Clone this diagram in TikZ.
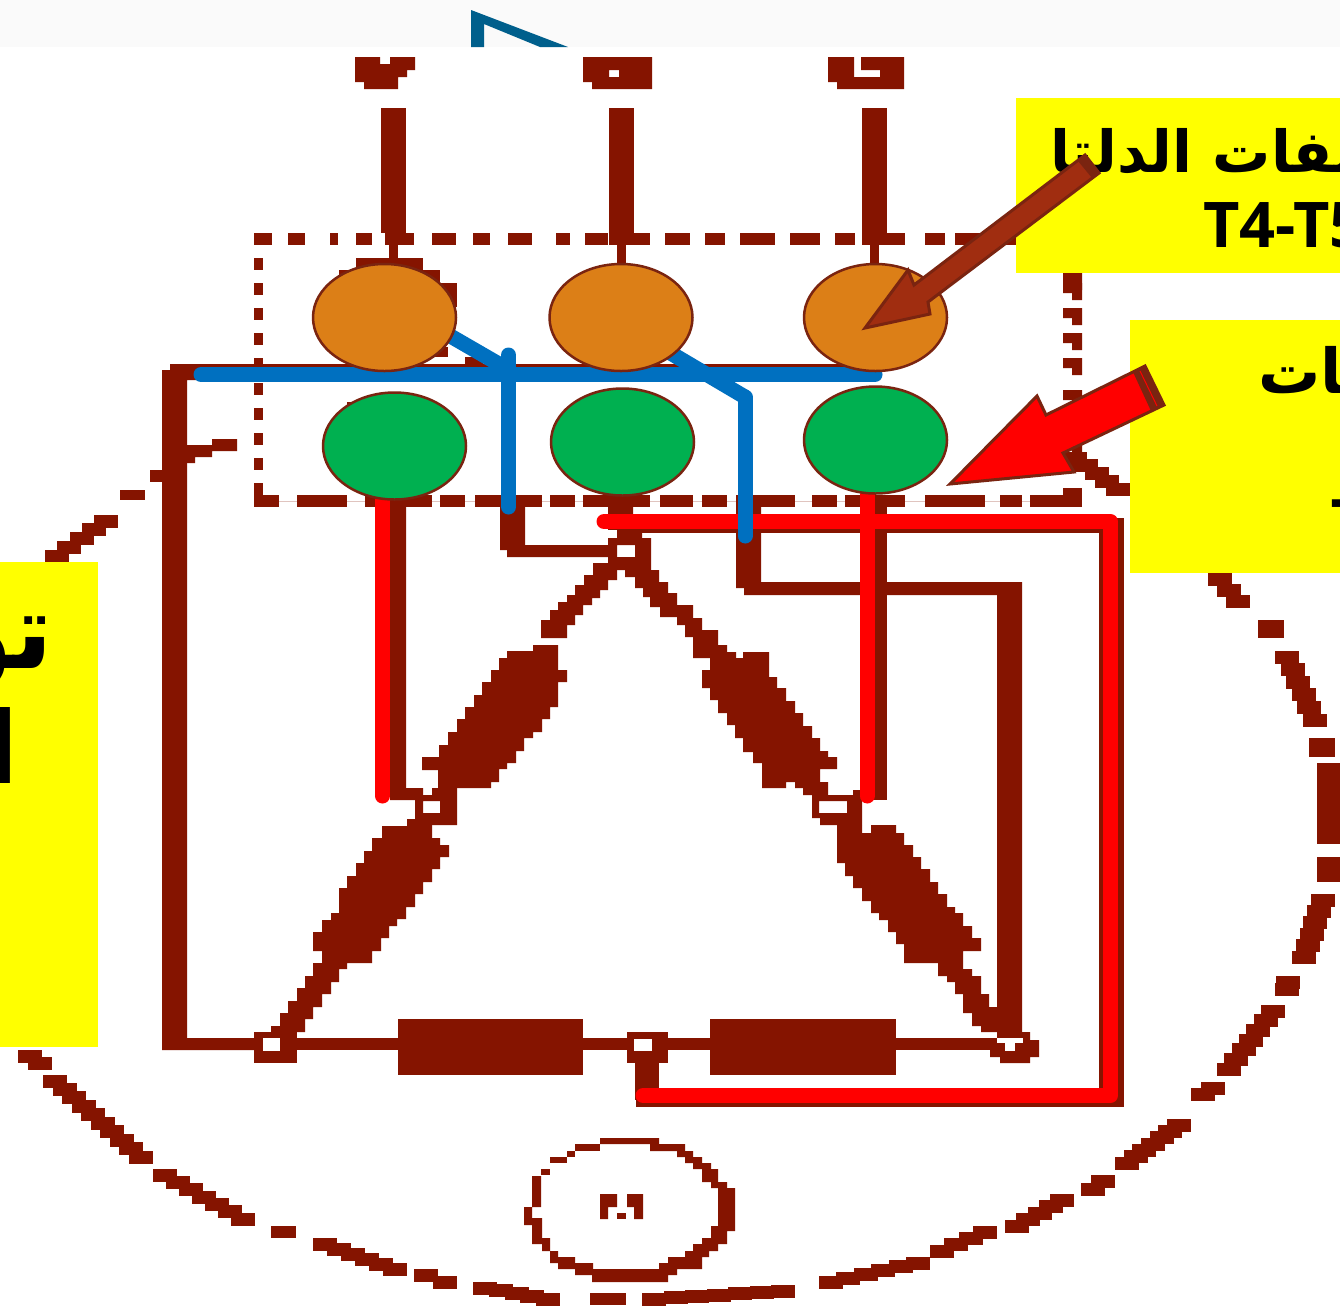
\documentclass[tikz,border=0pt]{standalone}
\usepackage{fontspec}
\usepackage{tikz}
\usetikzlibrary{shapes.geometric}
\setmainfont{Open Sans}
\newfontfamily\arabicfont[Script=Arabic]{DejaVu Sans}
\TeXXeTstate=1
\definecolor{wirered}{HTML}{851400}
\definecolor{edgebrown}{HTML}{7A2410}
\definecolor{arrowbrown}{HTML}{A02D10}
\definecolor{blueline}{HTML}{0070C0}
\definecolor{orangepad}{HTML}{DC7F17}
\definecolor{greenpad}{HTML}{00B050}
\definecolor{tabteal}{HTML}{005F8C}
\definecolor{labelyellow}{RGB}{255,255,0}
\definecolor{purered}{RGB}{255,0,0}
\tikzset{
  wire/.style = {fill = wirered},
  pad/.style = {ellipse, draw = edgebrown, line width = 2.5pt, minimum width = 143pt, minimum height = 107pt, inner sep = 0pt},
  yellowbox/.style = {fill = labelyellow},
  bluelink/.style = {draw = blueline, line width = 15pt, line cap = round},
  redlink/.style = {draw = purered, line width = 15pt, line cap = round, line join = round},
  bigarrow/.style = {draw = edgebrown, line width = 3pt, line join = miter},
  labeltext/.style = {inner sep = 0pt, text = black, font = \bfseries}
}
% one piece of the stepped outer ring
\newcommand{\stairpiece}[5]{%
  \foreach \k in {0,...,#5} {
    \pgfmathsetmacro{\px}{#1+(#3-#1)*\k/#5}
    \pgfmathsetmacro{\py}{#2+(#4-#2)*\k/#5}
    \fill [wire] (\px-12,\py-6.5) rectangle (\px+12,\py+6.5);
  }
}
\begin{document}
\begin{tikzpicture}[x = 1pt, y = -1pt]
\useasboundingbox (0, 0) rectangle (1340, 1310);
\fill [white] (0, 0) rectangle (1340, 1310);
%\draw [help lines, step = 100] (0, 0) grid (1340, 1310);
\fill [black!2] (0, 0) rectangle (1340, 47);
\fill [tabteal] (471, 47) -- (471, 10) -- (568, 47) -- (540, 47) -- (484, 24) -- (484, 47) -- cycle;

% terminals
\fill [wire] (355, 57) -- (380, 57) -- (380, 64) -- (390, 64) -- (390, 57) -- (415, 57) -- (415, 70) -- (407, 70) -- (407, 77) -- (398, 77) -- (398, 89) -- (364, 89) -- (364, 82) -- (355, 82) -- cycle;
\fill [wire, even odd rule] (583, 57) -- (652, 57) -- (652, 89) -- (592, 89) -- (592, 82) -- (583, 82) -- cycle (609, 70) rectangle (619, 77);
\fill [wire] (828, 57) -- (854, 57) -- (854, 77) -- (880, 77) -- (880, 70) -- (861, 70) -- (861, 57) -- (904, 57) -- (904, 89) -- (837, 89) -- (837, 82) -- (828, 82) -- cycle;
\foreach \a in {381, 609, 862} {
  \fill [wire] (\a, 108) rectangle (\a + 25, 233);
  \fill [wire] (\a + 8, 245) rectangle (\a + 17, 266);
}

% dashed box
\draw [wirered!25, line width = 1pt] (254, 501) -- (1082, 501);
\foreach \a/\b in {254/272, 288/305, 330/338, 356/372, 385/414, 432/456, 473/490, 508/532, 556/570, 585/608, 609/650, 665/690, 705/725, 740/775, 790/820, 835/855, 862/905, 925/945, 955/980, 1000/1016} {
  \fill [wire] (\a, 233) rectangle (\b, 245);
}
\foreach \a/\b in {254/279, 297/347, 365/432, 440/465, 475/542, 550/575, 583/650, 660/693, 702/727, 737/795, 812/837, 845/905, 925/985, 1000/1022, 1030/1082} {
  \fill [wire] (\a, 495) rectangle (\b, 507);
}
\foreach \a in {258, 283, 308, 333, 358, 383, 408, 433, 458, 483} {
  \fill [wire] (254, \a) rectangle (263, \a + 12);
}
\fill [wire] (254, 483) rectangle (263, 507);
\fill [wire] (1063, 488) rectangle (1082, 507);
\foreach \a in {273, 283, 308, 333, 358, 390, 415, 440, 452} {
  \fill [wire] (1063, \a) -- (1082, \a) -- (1082, \a + 17) -- (1072, \a + 17) -- (1072, \a + 10) -- (1063, \a + 10) -- cycle;
}

% blobs behind the pads
\fill [wire] (356, 258) rectangle (423, 270);
\fill [wire] (339, 270) rectangle (440, 282);
\fill [wire] (440, 283) rectangle (457, 307);
\fill [wire] (433, 347) rectangle (448, 357);
\fill [wire] (465, 357) rectangle (483, 364);
\fill [wire] (347, 402) rectangle (363, 410);

% big frame and wires
\fill [wire] (170, 364) -- (880, 364) -- (880, 380) -- (187, 380) -- (187, 1038) -- (255, 1038) -- (255, 1050) -- (162, 1050) -- (162, 370) -- (170, 370) -- cycle;
\fill [wire] (187, 445) -- (212, 445) -- (212, 439) -- (237, 439) -- (237, 451) -- (212, 451) -- (212, 457) -- (195, 457) -- (195, 463) -- (187, 463) -- cycle;
\fill [wire] (150, 470) rectangle (162, 482);
\fill [wire] (120, 490) rectangle (145, 500);
\stairpiece{57}{556}{106}{521}{4}
\fill [wire] (390, 495) -- (406, 495) -- (406, 788) -- (423, 788) -- (423, 800) -- (390, 800) -- cycle;
\fill [wire] (874, 495) rectangle (887, 793);
\fill [wire] (853, 790) rectangle (887, 800);
\fill [wire] (500, 495) -- (525, 495) -- (525, 545) -- (610, 545) -- (610, 557) -- (507, 557) -- (507, 550) -- (500, 550) -- cycle;
\fill [wire] (736, 495) -- (761, 495) -- (761, 582) -- (1022, 582) -- (1022, 1035) -- (997, 1035) -- (997, 595) -- (744, 595) -- (744, 588) -- (736, 588) -- cycle;
\fill [wire] (620, 518) rectangle (1124, 533);
\fill [wire] (1099, 518) rectangle (1124, 1107);
\fill [wire] (636, 1088) rectangle (1124, 1107);

% top junction
\fill [wire, even odd rule] (608, 507) -- (633, 507) -- (633, 529) -- (642, 529) -- (642, 538) -- (651, 538) -- (651, 570) -- (608, 570) -- cycle (617, 545) rectangle (635, 557);
\fill [white] (608, 538) -- (617, 538) -- (617, 530) -- (608, 530) -- cycle;
% left branch from the top junction
\fill [wire] (593, 563) -- (617, 563) -- (617, 580) -- (608, 580) -- (608, 590) -- (600, 590) -- (600, 598) -- (592, 598) -- (592, 605) -- (583, 605) -- (583, 615) -- (575, 615) -- (575, 625) -- (567, 625) -- (567, 638) -- (541, 638) -- (541, 620) -- (550, 620) -- (550, 610) -- (558, 610) -- (558, 602) -- (567, 602) -- (567, 595) -- (575, 595) -- (575, 585) -- (584, 585) -- (584, 575) -- (593, 575) -- cycle;
% right branch from the top junction
\fill [wire] (625, 570) -- (659, 570) -- (659, 582) -- (668, 582) -- (668, 593) -- (677, 593) -- (677, 605) -- (693, 605) -- (693, 618) -- (702, 618) -- (702, 630) -- (718, 630) -- (718, 645) -- (727, 645) -- (727, 652) -- (736, 652) -- (736, 658) -- (693, 658) -- (693, 637) -- (685, 637) -- (685, 625) -- (677, 625) -- (677, 617) -- (660, 617) -- (660, 607) -- (650, 607) -- (650, 597) -- (643, 597) -- (643, 588) -- (635, 588) -- (635, 577) -- (625, 577) -- cycle;

% upper left winding
\fill [wire] (533, 645) -- (558, 645) -- (558, 670) -- (567, 670) -- (567, 682) -- (558, 682) -- (558, 707) -- (550, 707) -- (550, 719) -- (542, 719) -- (542, 732) -- (533, 732) -- (533, 738) -- (524, 738) -- (524, 751) -- (516, 751) -- (516, 763) -- (507, 763) -- (507, 769) -- (499, 769) -- (499, 782) -- (491, 782) -- (491, 788) -- (438, 788) -- (438, 770) -- (422, 770) -- (422, 757) -- (439, 757) -- (439, 745) -- (448, 745) -- (448, 732) -- (457, 732) -- (457, 719) -- (465, 719) -- (465, 707) -- (474, 707) -- (474, 695) -- (482, 695) -- (482, 682) -- (491, 682) -- (491, 670) -- (499, 670) -- (499, 658) -- (507, 658) -- (507, 651) -- (533, 651) -- cycle;
% upper right winding
\fill [wire] (710, 658) -- (743, 658) -- (743, 652) -- (769, 652) -- (769, 677) -- (777, 677) -- (777, 688) -- (786, 688) -- (786, 701) -- (795, 701) -- (795, 713) -- (803, 713) -- (803, 726) -- (812, 726) -- (812, 738) -- (820, 738) -- (820, 751) -- (828, 751) -- (828, 757) -- (837, 757) -- (837, 769) -- (820, 769) -- (820, 782) -- (828, 782) -- (828, 795) -- (803, 795) -- (803, 788) -- (795, 788) -- (795, 782) -- (786, 782) -- (786, 788) -- (762, 788) -- (762, 763) -- (753, 763) -- (753, 752) -- (743, 752) -- (743, 738) -- (735, 738) -- (735, 725) -- (727, 725) -- (727, 713) -- (718, 713) -- (718, 700) -- (710, 700) -- (710, 688) -- (702, 688) -- (702, 670) -- (710, 670) -- cycle;
% middle junctions
\fill [wire, even odd rule] (415, 795) -- (432, 795) -- (432, 788) -- (457, 788) -- (457, 825) -- (415, 825) -- cycle (423, 801) rectangle (440, 813);
\fill [wire, even odd rule] (812, 795) -- (862, 795) -- (862, 825) -- (820, 825) -- (820, 818) -- (812, 818) -- cycle (819, 801) rectangle (847, 813);
% lower left winding
\fill [wire] (382, 826) -- (407, 826) -- (407, 819) -- (415, 819) -- (432, 825) -- (432, 838) -- (440, 838) -- (440, 845) -- (449, 845) -- (449, 857) -- (440, 857) -- (440, 869) -- (432, 869) -- (432, 882) -- (423, 882) -- (423, 894) -- (415, 894) -- (415, 907) -- (406, 907) -- (406, 919) -- (397, 919) -- (397, 926) -- (389, 926) -- (389, 938) -- (381, 938) -- (381, 951) -- (372, 951) -- (372, 963) -- (347, 963) -- (347, 969) -- (339, 969) -- (339, 982) -- (331, 982) -- (331, 994) -- (322, 994) -- (322, 1007) -- (313, 1007) -- (313, 1019) -- (305, 1019) -- (305, 1032) -- (271, 1032) -- (271, 1026) -- (280, 1026) -- (280, 1013) -- (288, 1013) -- (288, 1001) -- (297, 1001) -- (297, 988) -- (305, 988) -- (305, 976) -- (313, 976) -- (313, 963) -- (322, 963) -- (322, 951) -- (313, 951) -- (313, 932) -- (322, 932) -- (322, 920) -- (331, 920) -- (331, 913) -- (339, 913) -- (339, 888) -- (347, 888) -- (347, 876) -- (356, 876) -- (356, 863) -- (364, 863) -- (364, 851) -- (372, 851) -- (372, 838) -- (382, 838) -- cycle;
% lower right winding
\fill [wire] (837, 825) -- (862, 825) -- (862, 833) -- (871, 833) -- (871, 825) -- (896, 825) -- (896, 833) -- (904, 833) -- (904, 845) -- (913, 845) -- (913, 857) -- (921, 857) -- (921, 869) -- (930, 869) -- (930, 882) -- (938, 882) -- (938, 894) -- (947, 894) -- (947, 907) -- (955, 907) -- (955, 913) -- (963, 913) -- (963, 926) -- (972, 926) -- (972, 938) -- (981, 938) -- (981, 951) -- (963, 951) -- (963, 969) -- (972, 969) -- (972, 976) -- (981, 976) -- (981, 994) -- (989, 994) -- (989, 1007) -- (997, 1007) -- (997, 1032) -- (981, 1032) -- (981, 1026) -- (972, 1026) -- (972, 1013) -- (963, 1013) -- (963, 994) -- (955, 994) -- (955, 982) -- (947, 982) -- (947, 976) -- (938, 976) -- (938, 963) -- (904, 963) -- (904, 944) -- (896, 944) -- (896, 932) -- (888, 932) -- (888, 920) -- (879, 920) -- (879, 913) -- (871, 913) -- (871, 901) -- (862, 901) -- (862, 888) -- (853, 888) -- (853, 876) -- (845, 876) -- (845, 863) -- (837, 863) -- cycle;

% bottom wire with two windings
\fill [wire] (255, 1038) rectangle (1000, 1050);
\fill [wire] (398, 1019) rectangle (583, 1075);
\fill [wire] (710, 1019) rectangle (896, 1075);
\fill [wire] (254, 1032) rectangle (297, 1063);
\fill [wire] (627, 1032) rectangle (668, 1063);
\fill [white] (263, 1038) rectangle (280, 1051);
\fill [white] (634, 1039) rectangle (652, 1051);
\fill [wire] (635, 1063) rectangle (659, 1100);
\fill [wire] (997, 1032) -- (1030, 1032) -- (1030, 1040) -- (1039, 1040) -- (1039, 1057) -- (1030, 1057) -- (1030, 1063) -- (1000, 1063) -- (1000, 1057) -- (990, 1057) -- (990, 1050) -- (997, 1050) -- cycle;
\fill [white] (997, 1038) rectangle (1023, 1043);
\fill [white] (1005, 1043) rectangle (1015, 1051);

% outer ring
\stairpiece{30}{1056}{40}{1063}{1}
\stairpiece{55}{1081}{141}{1157}{9}
\stairpiece{165}{1175}{243}{1219}{6}
\fill [wire] (271, 1226) rectangle (296, 1238);
\stairpiece{325}{1244}{395}{1269}{5}
\stairpiece{426}{1275}{445}{1282}{1}
\stairpiece{485}{1288}{548}{1299}{4}
\fill [wire] (590, 1293) rectangle (626, 1305);
\stairpiece{654}{1299}{783}{1291}{6}
\stairpiece{831}{1282}{918}{1263}{5}
\stairpiece{942}{1251}{985}{1232}{3}
\stairpiece{1017}{1226}{1062}{1200}{4}
\stairpiece{1093}{1189}{1103}{1181}{1}
\stairpiece{1127}{1163}{1179}{1125}{6}
\stairpiece{1203}{1094}{1213}{1088}{1}
\stairpiece{1229}{1069}{1273}{1011}{6}
\stairpiece{1287}{989}{1288}{982}{1}
\stairpiece{1304}{957}{1323}{900}{5}
\fill [wire] (1317, 857) rectangle (1340, 882);
\fill [wire] (1317, 763) rectangle (1340, 844);
\fill [wire] (1309, 738) rectangle (1335, 757);
\stairpiece{1287}{657}{1315}{720}{5}
\fill [wire] (1258, 620) rectangle (1284, 638);
\stairpiece{1220}{579}{1238}{601}{2}
\stairpiece{1075}{458}{1118}{489}{4}

% motor ring
\fill [wire] (600, 1138) -- (659, 1138) -- (659, 1144) -- (685, 1144) -- (685, 1151) -- (693, 1151) -- (693, 1157) -- (702, 1157) -- (702, 1163) -- (711, 1163) -- (711, 1169) -- (718, 1169) -- (718, 1182) -- (727, 1182) -- (727, 1188) -- (735, 1188) -- (735, 1231) -- (727, 1231) -- (727, 1244) -- (718, 1244) -- (718, 1251) -- (709, 1251) -- (709, 1257) -- (702, 1257) -- (702, 1269) -- (677, 1269) -- (677, 1275) -- (668, 1275) -- (668, 1282) -- (592, 1282) -- (592, 1275) -- (575, 1275) -- (575, 1269) -- (558, 1269) -- (558, 1263) -- (550, 1263) -- (550, 1251) -- (542, 1251) -- (542, 1244) -- (532, 1244) -- (532, 1225) -- (524, 1225) -- (524, 1207) -- (532, 1207) -- (532, 1176) -- (541, 1176)
  -- (541, 1207) -- (532, 1207) -- (532, 1218) -- (542, 1218) -- (542, 1238) -- (550, 1238) -- (550, 1251) -- (558, 1251) -- (558, 1257) -- (575, 1257) -- (575, 1263) -- (593, 1263) -- (593, 1269) -- (659, 1269) -- (659, 1263) -- (668, 1263) -- (668, 1257) -- (685, 1257) -- (685, 1251) -- (693, 1251) -- (693, 1244) -- (702, 1244) -- (702, 1238) -- (711, 1238) -- (711, 1226) -- (718, 1226) -- (718, 1188) -- (711, 1188) -- (711, 1182) -- (702, 1182) -- (702, 1169) -- (693, 1169) -- (693, 1163) -- (685, 1163) -- (685, 1157) -- (677, 1157) -- (677, 1151) -- (650, 1151) -- (650, 1144) -- (600, 1144) -- cycle;
\fill [wire] (575, 1144) rectangle (600, 1151);
\fill [wire] (567, 1151) rectangle (575, 1157);
\fill [wire] (550, 1157) rectangle (567, 1163);
\fill [wire] (541, 1169) rectangle (550, 1175);
\fill [wire] (600, 1194) -- (617, 1194) -- (617, 1207) -- (608, 1207) -- (608, 1219) -- (600, 1219) -- cycle;
\fill [wire] (627, 1194) -- (643, 1194) -- (643, 1219) -- (634, 1219) -- (634, 1207) -- (627, 1207) -- cycle;
\fill [wire] (617, 1213) rectangle (626, 1219);

% red links
\coordinate (reda) at (382.5, 500);
\coordinate (redaend) at (382.5, 796);
\coordinate (redc) at (867, 495);
\coordinate (redcend) at (867, 796);
\coordinate (redstart) at (604, 521.5);
\coordinate (redcorner) at (1110.5, 521.5);
\coordinate (redlow) at (1110.5, 1095.5);
\coordinate (redend) at (643, 1095.5);
\draw [redlink] (reda) -- (redaend);
\draw [redlink] (redc) -- (redcend);
\draw [redlink] (redstart) -- (redcorner) -- (redlow) -- (redend);

% blue links
\coordinate (bluestart) at (201, 374.5);
\coordinate (blueend) at (875, 374.5);
\coordinate (blueatop) at (508.5, 355);
\coordinate (blueabot) at (508.5, 507);
\coordinate (bluebtop) at (745, 397);
\coordinate (bluebbot) at (745, 536);
\coordinate (diaga) at (440, 330);
\coordinate (diagaend) at (504, 367);
\coordinate (diagb) at (662, 348);
\draw [bluelink] (bluestart) -- (blueend);
\draw [bluelink] (blueatop) -- (blueabot);
\draw [bluelink] (bluebtop) -- (bluebbot);
\draw [bluelink, line cap = butt] (diaga) -- (diagaend);
\draw [bluelink, line cap = butt] (diagb) -- (bluebtop);

% pads
\node [pad, fill = orangepad] (orangea) at (384.5, 317.5) {};
\node [pad, fill = orangepad] (orangeb) at (621, 317.5) {};
\node [pad, fill = orangepad] (orangec) at (875.5, 317.5) {};
\node [pad, fill = greenpad] (greena) at (394.5, 446) {};
\node [pad, fill = greenpad] (greenb) at (622.5, 442) {};
\node [pad, fill = greenpad] (greenc) at (875.5, 440) {};

% yellow labels
\fill [yellowbox] (1016, 98) rectangle (1340, 273);
\fill [yellowbox] (1130, 320) rectangle (1340, 573);
\fill [yellowbox] (0, 562) rectangle (98, 1047);
\node [labeltext, anchor = base west, font = \bfseries\fontsize{58}{58}\selectfont] (deltaname) at (1050, 172) {\arabicfont\beginR ملفات الدلتا\endR};
\node [labeltext, anchor = base west, font = \bfseries\fontsize{63}{63}\selectfont] (deltaends) at (1203, 247) {T4-T5-T6};
\node [labeltext, anchor = base west, font = \bfseries\fontsize{62}{62}\selectfont] (rightname) at (1258, 393) {\arabicfont\beginR ملفات\endR};
\node [labeltext, anchor = base west, font = \bfseries\fontsize{63}{63}\selectfont] (rightends) at (1330, 520) {-};
\node [labeltext, anchor = base east, font = \bfseries\fontsize{106}{106}\selectfont] (leftname) at (54, 668) {\arabicfont\beginR توصيل\endR};
\node [labeltext, anchor = base east, font = \bfseries\fontsize{100}{100}\selectfont] (leftnext) at (19, 783) {\arabicfont\beginR الدلتا\endR};

% arrows
\draw [bigarrow, fill = arrowbrown] (865, 328) -- (908, 270) -- (914, 285) -- (1085, 155) -- (1099, 173) -- (928, 302) -- (930, 314) -- cycle;
\fill [edgebrown] (1078, 161) -- (1085, 155) -- (1099, 173) -- (1092, 178) -- cycle;
\draw [bigarrow, fill = purered] (950, 484) -- (1037, 396) -- (1046, 415) -- (1145, 366) -- (1164, 405) -- (1063, 453) -- (1074, 472) -- cycle;
\fill [edgebrown] (1133, 372) -- (1145, 366) -- (1164, 405) -- (1151, 411) -- cycle;
\draw [purered, line width = 1pt] (1140, 371) -- (1157, 406);
\end{tikzpicture}
\end{document}
